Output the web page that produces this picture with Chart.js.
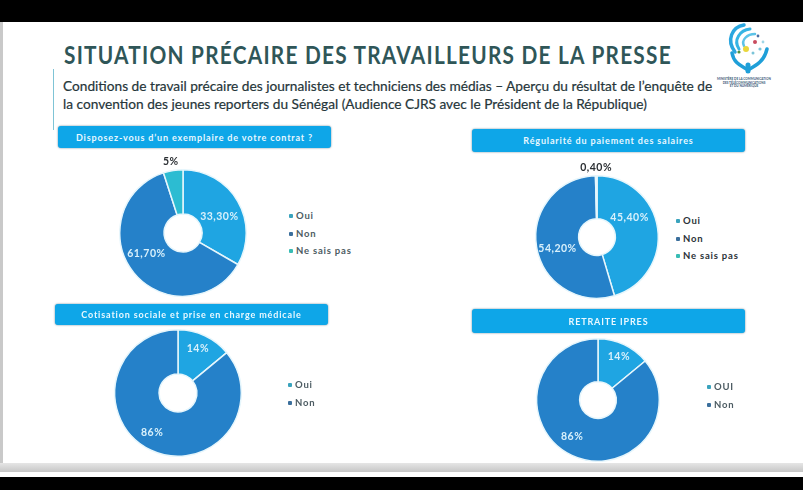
<!DOCTYPE html>
<html lang="fr">
<head>
<meta charset="utf-8">
<title>Situation précaire des travailleurs de la presse</title>
<script src="https://cdn.jsdelivr.net/npm/chart.js@4"></script>
<style>
html, body { margin: 0; padding: 0; background: #000; }
#slide { position: relative; width: 803px; height: 490px; overflow: hidden; background: #000; font-family: Lato, sans-serif; filter: blur(0.45px); }
#paper { position: absolute; left: 0; top: 22px; width: 803px; height: 455px; background: #fff; }
#edge { position: absolute; left: 0; top: 22px; width: 3px; height: 441px; background: #c9c9c9; }
#band { position: absolute; left: 0; top: 463px; width: 803px; height: 9px; background: linear-gradient(#e6e6e6, #c6c6c6); }
#rule { position: absolute; left: 53px; top: 69px; width: 1px; height: 61px; background: #7fc4d6; }
h1 { position: absolute; left: 64px; top: 39px; margin: 0; font: bold 25px Lato, sans-serif; letter-spacing: 1.5px; color: #2f5658; white-space: nowrap; transform-origin: 0 0; }
p.sub { position: absolute; left: 63px; margin: 0; font: 13.7px Lato, sans-serif; color: #26363a; white-space: nowrap; -webkit-text-stroke: 0.2px #26363a; }
.bar { position: absolute; width: 273px; border-radius: 3px; background: #0ea6e8; box-shadow: 0 0 2px #5d7f92; color: #e9f8ff; font: bold 9px Lato, sans-serif; letter-spacing: 0.85px; display: flex; align-items: center; justify-content: center; }
canvas { position: absolute; }
.key { position: absolute; font: bold 9.5px Lato, sans-serif; letter-spacing: 0.8px; white-space: nowrap; }
.key i { position: absolute; left: -7px; top: 4px; width: 4px; height: 4px; border-radius: 1px; }
#logo { position: absolute; left: 708px; top: 22px; }
</style>
</head>
<body>
<div id="slide">
  <div id="paper"></div>
  <div id="edge"></div>
  <div id="band"></div>
  <div id="rule"></div>
  <h1 id="headline">SITUATION PRÉCAIRE DES TRAVAILLEURS DE LA PRESSE</h1>
  <p class="sub" style="top:77px">Conditions de travail précaire des journalistes et techniciens des médias – Aperçu du résultat de l’enquête de</p>
  <p class="sub" style="top:95px">la convention des jeunes reporters du Sénégal (Audience CJRS avec le Président de la République)</p>
  <svg id="logo" width="72" height="68" viewBox="0 0 72 68">
    <g fill="none" stroke-linecap="round">
      <path d="M36 3 C24 5 18 18 27 30" stroke="#2aa6df" stroke-width="3.5"/>
      <path d="M42 7 C32 8 25 18 31 27" stroke="#36b4e4" stroke-width="3"/>
      <path d="M47 12 C39 12 33 18 36 24" stroke="#5cc3e8" stroke-width="2.5"/>
      <path d="M24 31 C26 42 34 44 40 48 C47 44 56 40 59 27" stroke="#1f9fd8" stroke-width="3.5"/>
      <path d="M40 49 L40 43" stroke="#1f9fd8" stroke-width="5"/>
    </g>
    <circle cx="38" cy="27" r="3" fill="#e9d63a"/>
    <circle cx="47" cy="20" r="2" fill="#c94b5e"/>
    <circle cx="31" cy="30" r="1.6" fill="#4f8f3e"/>
    <circle cx="52" cy="27" r="1.6" fill="#7bc4d8"/>
    <circle cx="45" cy="31" r="1.5" fill="#7bc4d8"/>
    <circle cx="55" cy="20" r="1.4" fill="#9fd6e6"/>
    <circle cx="50" cy="14" r="1.4" fill="#4a6fa5"/>
    <g font-family="Lato, sans-serif" font-size="3.1" font-weight="bold" fill="#3c5a78" text-anchor="middle">
      <text x="36" y="58">MINISTÈRE DE LA COMMUNICATION</text>
      <text x="36" y="61.6">DES TÉLÉCOMMUNICATIONS</text>
      <text x="36" y="65.2">ET DU NUMÉRIQUE</text>
    </g>
  </svg>
</div>
<script>
// slice names for each question
const contratLabels = ['Oui', 'Non', 'Ne sais pas'];
const salaireLabels = ['Oui', 'Non', 'Ne sais pas'];
const cotisationLabels = ['Oui', 'Non'];
const retraiteLabels = ['OUI', 'Non'];

// percentages as printed on the slide
const contratValues = [33.3, 61.7, 5];
const salaireValues = [45.4, 54.2, 0.4];
const cotisationValues = [14, 86];
const retraiteValues = [14, 86];

// printed text of the percentages
const contratText = ['33,30%', '61,70%', '5%'];
const salaireText = ['45,40%', '54,20%', '0,40%'];
const cotisationText = ['14%', '86%'];
const retraiteText = ['14%', '86%'];

const sliceColors = ['#1fa5e2', '#2581c9', '#2cbcd2'];
const keyColors = ['#3aa3bd', '#3b6f9c', '#38bcb4'];

// squeeze the headline to the width it has on the slide
const headline = document.getElementById('headline');
headline.style.transform = 'scaleX(' + (608 / headline.offsetWidth) + ')';

const sliceText = {
    id: 'sliceText',
    afterDatasetsDraw(chart, args, opts) {
        const ctx = chart.ctx;
        const arcs = chart.getDatasetMeta(0).data;
        ctx.save();
        ctx.textAlign = 'center';
        ctx.textBaseline = 'middle';
        ctx.letterSpacing = '0.5px';
        arcs.forEach((arc, i) => {
            const mid = (arc.startAngle + arc.endAngle) / 2;
            const outside = chart.data.datasets[0].data[i] < 6;
            const r = outside ? arc.outerRadius + 8 : 42;
            const nudge = opts.nudges[i];
            ctx.font = 'bold 10.5px Lato, sans-serif';
            ctx.fillStyle = outside ? '#2b2f33' : '#d8f0fb';
            ctx.fillText(opts.text[i], arc.x + Math.cos(mid) * r + nudge[0], arc.y + Math.sin(mid) * r + nudge[1]);
        });
        ctx.restore();
    }
};

function addPanel(p) {
    const slide = document.getElementById('slide');

    const bar = document.createElement('div');
    bar.className = 'bar';
    bar.style.left = p.bar[0] + 'px';
    bar.style.top = p.bar[1] + 'px';
    bar.style.height = p.bar[2] + 'px';
    bar.textContent = p.title;
    slide.appendChild(bar);

    const pad = 16;
    const side = (p.radius + pad) * 2;
    const canvas = document.createElement('canvas');
    canvas.width = side;
    canvas.height = side;
    canvas.style.left = (p.cx - side / 2) + 'px';
    canvas.style.top = (p.cy - side / 2) + 'px';
    slide.appendChild(canvas);

    new Chart(canvas.getContext('2d'), {
        type: 'doughnut',
        data: {
            labels: p.labels,
            datasets: [{
                data: p.values,
                backgroundColor: sliceColors,
                borderColor: '#e6f6fc',
                borderWidth: 1.5
            }]
        },
        options: {
            responsive: false,
            animation: false,
            cutout: '30%',
            layout: { padding: pad },
            plugins: {
                legend: { display: false },
                tooltip: { enabled: false },
                sliceText: { text: p.text, nudges: p.nudges }
            }
        },
        plugins: [sliceText]
    });

    p.labels.forEach((name, i) => {
        const key = document.createElement('div');
        key.className = 'key';
        key.style.left = p.key[0] + 'px';
        key.style.top = (p.key[1] + i * p.key[2]) + 'px';
        key.style.color = p.keyInk;
        key.innerHTML = '<i style="background:' + keyColors[i] + '"></i>' + name;
        slide.appendChild(key);
    });
}

addPanel({
    title: 'Disposez-vous d’un exemplaire de votre contrat ?',
    labels: contratLabels, values: contratValues, text: contratText,
    bar: [58, 126, 22], cx: 183, cy: 233, radius: 64,
    nudges: [[0, 5], [-4, -6], [-1, -1]],
    key: [296, 210, 17.5], keyInk: '#4d5c63'
});
addPanel({
    title: 'Régularité du paiement des salaires',
    labels: salaireLabels, values: salaireValues, text: salaireText,
    bar: [472, 129, 23], cx: 597, cy: 237, radius: 62,
    nudges: [[-9, -13], [2, 5], [0, 0]],
    key: [683, 215, 17.5], keyInk: '#2b3338'
});
addPanel({
    title: 'Cotisation sociale et prise en charge médicale',
    labels: cotisationLabels, values: cotisationValues, text: cotisationText,
    bar: [55, 304, 21], cx: 177.5, cy: 393, radius: 64,
    nudges: [[2, -6], [-8, 2]],
    key: [295, 379, 17.5], keyInk: '#4d5c63'
});
addPanel({
    title: 'RETRAITE IPRES',
    labels: retraiteLabels, values: retraiteValues, text: retraiteText,
    bar: [472, 309, 24], cx: 598, cy: 400, radius: 62,
    nudges: [[3, -5], [-8, -1]],
    key: [714, 381, 18], keyInk: '#4d5c63'
});
</script>
</body>
</html>
